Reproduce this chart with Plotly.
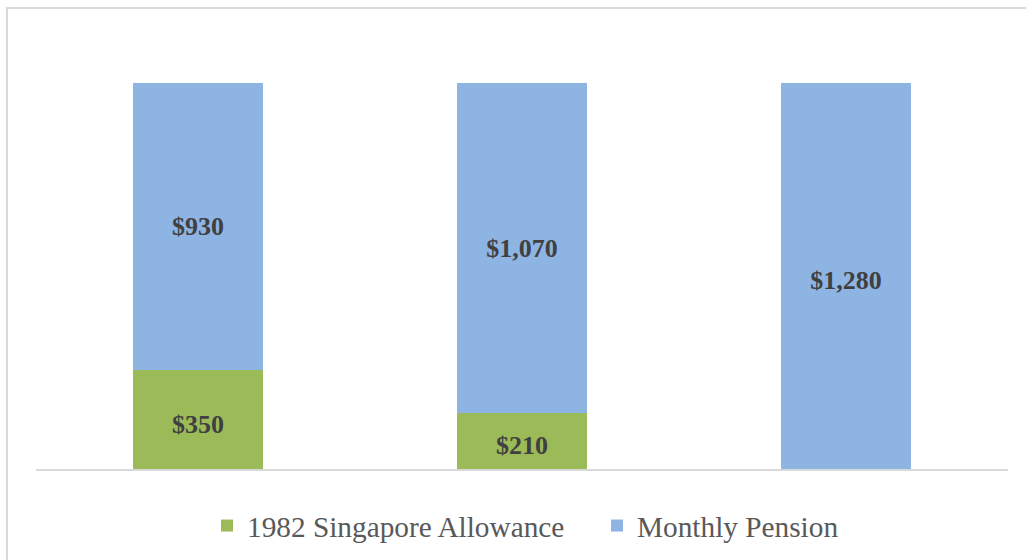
import plotly.graph_objects as go

categories = ["Option 1", "Option 2", "Option 3"]
allowance = [350, 210, 0]
pension = [930, 1070, 1280]
series_names = ["1982 Singapore Allowance", "Monthly Pension"]

GREEN = "#9BBB59"
BLUE = "#8EB4E3"
TXT = "#404040"
LABEL_FONT = dict(family="Liberation Serif, DejaVu Serif, serif", size=26, color=TXT, weight="bold")


def labels(vals):
    return [f"${v:,}" if v else "" for v in vals]


fig = go.Figure()
fig.add_trace(go.Bar(
    x=categories, y=allowance, name=series_names[0],
    marker=dict(color=GREEN, line=dict(width=0)),
    text=labels(allowance), textposition="inside", insidetextanchor="middle",
    textfont=LABEL_FONT, constraintext="none", hoverinfo="skip",
))
fig.add_trace(go.Bar(
    x=categories, y=pension, name=series_names[1],
    marker=dict(color=BLUE, line=dict(width=0)),
    text=labels(pension), textposition="inside", insidetextanchor="middle",
    textfont=LABEL_FONT, constraintext="none", hoverinfo="skip",
))

W, H = 1026, 560
# target pixels: plot left 36, right 1008, baseline 469, top 46
L, T = 36, 46
R = W - 1008
B = H - 469
pw, ph = W - L - R, H - T - B

def px_x(p):
    return (p - L) / pw

def px_y(p):
    return (H - B - p) / ph

fig.update_layout(
    barmode="stack",
    bargap=0.6,
    width=W, height=H,
    margin=dict(l=L, r=R, t=T, b=B, autoexpand=False),
    paper_bgcolor="white", plot_bgcolor="white",
    showlegend=True,
    legend=dict(
        orientation="h", x=px_x(207), xanchor="left", y=px_y(526), yanchor="middle",
        font=dict(family="Liberation Serif, DejaVu Serif, serif", size=29.3, color="#595959"),
        traceorder="normal", itemclick=False, itemdoubleclick=False,
        entrywidth=345, entrywidthmode="pixels",
    ),
    xaxis=dict(
        showticklabels=False, ticks="", showgrid=False, zeroline=False,
        showline=True, linecolor="#D9D9D9", linewidth=2, range=[-0.5, 2.5],
        fixedrange=True,
    ),
    yaxis=dict(
        range=[30, 1400], showticklabels=False, ticks="", showgrid=False,
        zeroline=False, showline=False, fixedrange=True,
    ),
    shapes=[dict(
        type="rect", xref="paper", yref="paper",
        x0=px_x(7), x1=px_x(1060), y0=px_y(600), y1=px_y(8),
        line=dict(color="#D9D9D9", width=2), fillcolor="rgba(0,0,0,0)", layer="below",
    )],
)

fig.write_html(
    "out.html",
    config={"displayModeBar": False},
    post_script="document.body.style.margin='0';document.body.style.overflow='hidden';",
)
